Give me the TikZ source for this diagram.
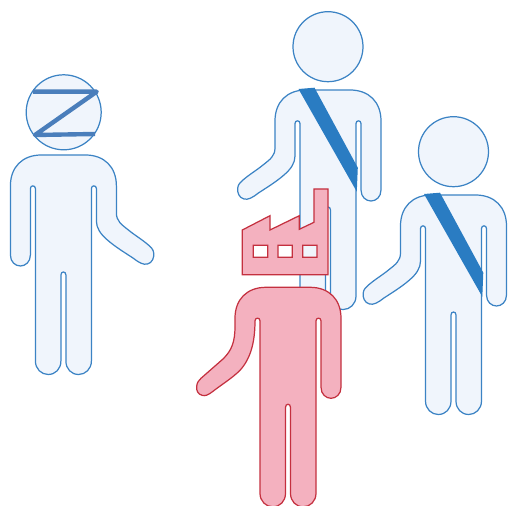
\documentclass[tikz,border=0pt]{standalone}
\definecolor{bluefill}{HTML}{F0F5FC}
\definecolor{blueline}{HTML}{3B83C4}
\definecolor{bandblue}{HTML}{2A7CC2}
\definecolor{zblue}{HTML}{4A7EBB}
\definecolor{redfill}{HTML}{F4B1BF}
\definecolor{redline}{HTML}{C4303F}
\tikzset{
  bluefig/.style={draw=blueline, fill=bluefill, line width=0.7pt},
  redfig/.style={draw=redline, fill=redfill, line width=0.7pt},
  band/.style={fill=bandblue},
  zline/.style={draw=zblue, line width=2.5pt, line join=round}
}
% #1 is the arm, from armpit to shoulder
\newcommand{\personbody}[1]{
  (-22,0) -- (22,0) .. controls (41,0) and (53,12) .. (53,31) -- (53,100)
  .. controls (53,107) and (48,111) .. (43,111) .. controls (38,111) and (33,107) .. (33,100)
  -- (33,33.5) .. controls (33,30) and (28,30) .. (28,33.5) -- (28,206)
  .. controls (28,214) and (22,219.5) .. (15.25,219.5) .. controls (8,219.5) and (2.5,214) .. (2.5,206)
  -- (2.5,120) .. controls (2.5,116) and (-2.5,116) .. (-2.5,120) -- (-2.5,206)
  .. controls (-2.5,214) and (-8,219.5) .. (-15.25,219.5) .. controls (-22,219.5) and (-28,214) .. (-28,206)
  -- (-28,33.5) .. controls (-28,30) and (-33,30) .. (-33,33.5) #1
  .. controls (-53,12) and (-41,0) .. (-22,0) -- cycle}
\newcommand{\plainarm}{
  -- (-33,66) .. controls (-33,73) and (-37,79) .. (-44,85)
  .. controls (-52,92) and (-62,98) .. (-70,103.3)
  .. controls (-76,108) and (-80,110) .. (-84,109) .. controls (-89,108) and (-91,102) .. (-90.3,98)
  .. controls (-90,94) and (-87,92) .. (-85,90)
  .. controls (-78,84) and (-71,80) .. (-65,75) .. controls (-58,69.5) and (-53,66) .. (-53,58) -- (-53,31)}
\newcommand{\longarm}{
  .. controls (-33,54) and (-37,71) .. (-48,83)
  .. controls (-56,91) and (-66,97) .. (-75,104)
  .. controls (-80,108) and (-83,109) .. (-86,108) .. controls (-90,107) and (-92,103) .. (-91.3,99)
  .. controls (-91,95) and (-89,93) .. (-87,91)
  -- (-65,71.7) .. controls (-56,63) and (-53,54) .. (-53,39) -- (-53,31)}
\begin{document}
\begin{tikzpicture}[x=0.02cm,y=-0.02cm]
  \useasboundingbox (0,0) rectangle (508,506);
  % left person
  \draw[bluefig] (63.7,112.3) circle (37.5);
  \draw[zline] (33,91.7) -- (96.7,91.7) -- (35,135) -- (95,134);
  \begin{scope}[shift={(63.4,155)},xscale=-1]
    \draw[bluefig] \personbody{\plainarm};
  \end{scope}
  % two persons with a band
  \foreach \hx/\hy in {328/90, 453.5/195} {
    \begin{scope}[shift={(\hx,\hy)}]
      \draw[bluefig] (0,-43.3) circle (35);
      \draw[bluefig] \personbody{\plainarm};
      \fill[band] (-29.5,-1) -- (-13.5,-2.3) -- (29.8,77.7) -- (28.8,101.7) -- cycle;
    \end{scope}
  }
  % red person
  \begin{scope}[shift={(288,287.3)}]
    \draw[redfig] \personbody{\longarm};
  \end{scope}
  \draw[redfig, even odd rule] (242.3,230) -- (270,215.7) -- (270,230) -- (299.3,215.7) -- (299.3,229.3)
    -- (314,222.3) -- (314,189) -- (328,189) -- (328,274.7) -- (242.3,274.7) -- cycle
    (253.3,245.3) rectangle (267.7,257.3)
    (278,245.3) rectangle (292.3,257.3)
    (302.7,245.3) rectangle (317,257.3);
\end{tikzpicture}
\end{document}
